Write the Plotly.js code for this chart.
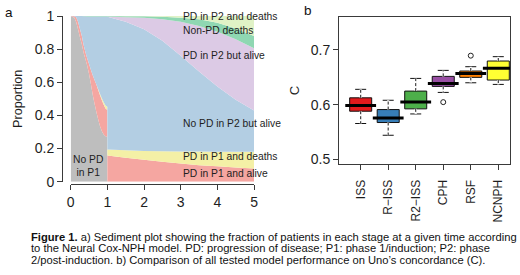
<!DOCTYPE html>
<html>
<head>
<meta charset="utf-8">
<script src="https://cdn.plot.ly/plotly-3.0.1.min.js"></script>
<style>
  html, body { margin: 0; padding: 0; background: #fff; }
  #chart { width: 520px; height: 275px; }
</style>
</head>
<body>
<div id="chart"></div>
<script>
// ---------- Panel a: sediment plot (proportion of patients per state over time) ----------
const time = [0, 0.1, 0.15, 0.2, 0.25, 0.3, 0.35, 0.4, 0.45, 0.5, 0.55, 0.6, 0.65, 0.7, 0.75, 0.8, 0.85, 0.9, 0.95, 0.999,
              1, 1.5, 2, 2.5, 3, 3.5, 4, 4.5, 5];
const noPdP1      = [1, 0.99, 0.963, 0.92, 0.873, 0.833, 0.78, 0.74, 0.70, 0.65, 0.59, 0.525, 0.47, 0.42, 0.375, 0.335, 0.305, 0.285, 0.275, 0.27,
                     0, 0, 0, 0, 0, 0, 0, 0, 0];
const pdP1Alive   = [0, 0.008, 0.03, 0.045, 0.05, 0.05, 0.047, 0.043, 0.044, 0.061, 0.086, 0.118, 0.144, 0.166, 0.178, 0.187, 0.186, 0.18, 0.167, 0.162,
                     0.158, 0.145, 0.133, 0.12, 0.11, 0.1, 0.093, 0.086, 0.08];
const pdP1Death   = [0, 0, 0, 0, 0, 0, 0, 0, 0, 0, 0, 0, 0, 0, 0.005, 0.008, 0.012, 0.015, 0.018, 0.02,
                     0.037, 0.045, 0.053, 0.064, 0.073, 0.082, 0.088, 0.094, 0.10];
const noPdP2Alive = [0, 0.002, 0.007, 0.035, 0.077, 0.117, 0.172, 0.215, 0.253, 0.286, 0.321, 0.354, 0.383, 0.411, 0.439, 0.467, 0.494, 0.517, 0.537, 0.545,
                     0.8, 0.775, 0.734, 0.666, 0.577, 0.483, 0.394, 0.315, 0.25];
const pdP2Alive   = [0, 0, 0, 0, 0, 0, 0, 0, 0, 0, 0, 0, 0, 0, 0, 0, 0, 0, 0, 0,
                     0.002, 0.028, 0.07, 0.13, 0.205, 0.275, 0.33, 0.365, 0.375];
const nonPdDeath  = [0, 0, 0, 0, 0, 0, 0.001, 0.002, 0.003, 0.003, 0.003, 0.003, 0.003, 0.003, 0.003, 0.003, 0.003, 0.003, 0.003, 0.003,
                     0.003, 0.006, 0.008, 0.015, 0.025, 0.04, 0.055, 0.065, 0.075];
const pdP2Death   = [0, 0, 0, 0, 0, 0, 0, 0, 0, 0, 0, 0, 0, 0, 0, 0, 0, 0, 0, 0,
                     0, 0.001, 0.002, 0.005, 0.01, 0.02, 0.04, 0.075, 0.12];

const stateNames = ['No PD in P1', 'PD in P1 and alive', 'PD in P1 and deaths', 'No PD in P2 but alive',
                    'PD in P2 but alive', 'Non-PD deaths', 'PD in P2 and deaths'];
const stateValues = [noPdP1, pdP1Alive, pdP1Death, noPdP2Alive, pdP2Alive, nonPdDeath, pdP2Death];
const stateColors = ['#bebebe', '#f5a6a1', '#f4f0a6', '#b3cee3', '#dccae5', '#8fd7b2', '#e0f2c6'];

// ---------- Panel b: Uno's concordance per model ----------
const models       = ['ISS', 'R\u2212ISS', 'R2\u2212ISS', 'CPH', 'RSF', 'NCNPH'];
const lowerWhisker = [0.5655, 0.544, 0.583, 0.6224, 0.640, 0.637];
const q1           = [0.588, 0.5673, 0.5923, 0.6334, 0.6499, 0.645];
const median       = [0.5985, 0.5758, 0.605, 0.6389, 0.6572, 0.6664];
const q3           = [0.6125, 0.591, 0.6248, 0.6517, 0.6615, 0.6798];
const upperWhisker = [0.628, 0.608, 0.648, 0.6627, 0.6694, 0.6878];
const outlierModel = ['CPH', 'RSF'];
const outlierC     = [0.6046, 0.6896];
const boxColors    = ['#e41a1c', '#377eb8', '#4daf4a', '#984ea3', '#ff7f00', '#ffff33'];

const FONT = 'Liberation Sans, Arial, Helvetica, sans-serif';
const AX = '#3a3a3a';
const traces = [];

stateNames.forEach((name, i) => {
  traces.push({
    type: 'scatter', mode: 'none', name: name,
    x: time, y: stateValues[i],
    stackgroup: 'sediment',
    fillcolor: stateColors[i],
    line: {width: 0},
    xaxis: 'x', yaxis: 'y',
    hoverinfo: 'skip', showlegend: false
  });
});

models.forEach((m, i) => {
  traces.push({
    type: 'box', name: m,
    x: [m], q1: [q1[i]], median: [median[i]], q3: [q3[i]],
    lowerfence: [lowerWhisker[i]], upperfence: [upperWhisker[i]],
    fillcolor: boxColors[i],
    line: {color: '#111', width: 1},
    width: 0.8, whiskerwidth: 0.5, boxpoints: false,
    xaxis: 'x2', yaxis: 'y2', showlegend: false, hoverinfo: 'skip'
  });
});

// dashed whiskers (R style) drawn over the box whiskers
models.forEach((m, i) => {
  const wx = [m, m, m, m, m];
  const wy = [q3[i], upperWhisker[i], null, q1[i], lowerWhisker[i]];
  traces.push({type: 'scatter', mode: 'lines', x: wx, y: wy, line: {color: '#ffffff', width: 2.2},
               connectgaps: false, xaxis: 'x2', yaxis: 'y2', showlegend: false, hoverinfo: 'skip'});
  traces.push({type: 'scatter', mode: 'lines', x: wx, y: wy, line: {color: '#222', width: 1, dash: '3px,2px'},
               connectgaps: false, xaxis: 'x2', yaxis: 'y2', showlegend: false, hoverinfo: 'skip'});
});

// thick medians
traces.push({
  type: 'scatter', mode: 'markers', x: models, y: median,
  marker: {symbol: 'line-ew', size: 22, line: {width: 3, color: '#000'}},
  xaxis: 'x2', yaxis: 'y2', showlegend: false, hoverinfo: 'skip'
});

// outliers
traces.push({
  type: 'scatter', mode: 'markers', x: outlierModel, y: outlierC,
  marker: {symbol: 'circle-open', size: 5, color: '#222', line: {width: 1}},
  xaxis: 'x2', yaxis: 'y2', showlegend: false, hoverinfo: 'skip'
});

const labelFont = {family: FONT, size: 10.3, color: '#1e1e1e'};
function stateLabel(text, x, y, anchor) {
  return {text: text, x: x, y: y, xref: 'x', yref: 'y', xanchor: anchor || 'left', yanchor: 'middle',
          showarrow: false, font: labelFont, align: 'center'};
}
const captionFont = {family: FONT, size: 11.2, color: '#111'};
function captionLine(text, y) {
  return {text: text, x: 0.0558, y: y, xref: 'paper', yref: 'paper', xanchor: 'left', yanchor: 'middle',
          showarrow: false, font: captionFont, align: 'left'};
}

const layout = {
  width: 520, height: 275,
  margin: {l: 0, r: 0, t: 0, b: 0},
  paper_bgcolor: '#fff', plot_bgcolor: '#fff',
  showlegend: false,
  boxmode: 'overlay',
  font: {family: FONT, color: '#1e1e1e'},
  xaxis: {
    domain: [0.136, 0.4885], range: [0, 5], anchor: 'free', position: 0.331,
    showline: true, linecolor: AX, linewidth: 1, ticks: 'outside', ticklen: 5, tickcolor: AX, tickwidth: 1,
    tickvals: [0, 1, 2, 3, 4, 5], showgrid: false, zeroline: false,
    tickfont: {family: FONT, size: 14, color: '#1e1e1e'}
  },
  yaxis: {
    domain: [0.3393, 0.9418], range: [0, 1], anchor: 'free', position: 0.1192,
    showline: true, linecolor: AX, linewidth: 1, ticks: 'outside', ticklen: 5, tickcolor: AX, tickwidth: 1,
    tickvals: [0, 0.2, 0.4, 0.6, 0.8, 1], ticktext: ['0', '0.2', '0.4', '0.6', '0.8', '1'],
    showgrid: false, zeroline: false,
    tickfont: {family: FONT, size: 14, color: '#1e1e1e'},
    title: {text: 'Proportion', font: {family: FONT, size: 12.6, color: '#1e1e1e'}, standoff: 8}
  },
  xaxis2: {
    type: 'category', domain: [0.6519, 0.9817], range: [-0.788, 5.443], anchor: 'y2',
    showline: true, mirror: true, linecolor: AX, linewidth: 1,
    ticks: 'outside', ticklen: 5, tickcolor: AX, tickwidth: 1, tickangle: -90,
    ticklabelstandoff: 5, showgrid: false, zeroline: false,
    tickfont: {family: FONT, size: 12, color: '#1e1e1e'}
  },
  yaxis2: {
    domain: [0.4036, 0.9371], range: [0.4914, 0.7598], anchor: 'x2',
    showline: true, mirror: true, linecolor: AX, linewidth: 1,
    ticks: 'outside', ticklen: 5, tickcolor: AX, tickwidth: 1,
    tickvals: [0.5, 0.6, 0.7], ticktext: ['0.5', '0.6', '0.7'],
    showgrid: false, zeroline: false,
    tickfont: {family: FONT, size: 14, color: '#1e1e1e'},
    title: {text: 'C', font: {family: FONT, size: 13, color: '#1e1e1e'}, standoff: 8}
  },
  annotations: [
    stateLabel('PD in P2 and deaths', 3, 0.995),
    stateLabel('Non-PD deaths', 3, 0.911),
    stateLabel('PD in P2 but alive', 3, 0.759),
    stateLabel('No PD in P2 but alive', 3, 0.352),
    stateLabel('PD in P1 and deaths', 3, 0.155),
    stateLabel('PD in P1 and alive', 3, 0.05),
    stateLabel('No PD<br>in P1', 0.48, 0.095, 'center'),
    {text: 'a', x: 0.006, y: 0.955, xref: 'paper', yref: 'paper', xanchor: 'left', yanchor: 'middle',
     showarrow: false, font: {family: FONT, size: 13.5, color: '#111'}},
    {text: 'b', x: 0.581, y: 0.962, xref: 'paper', yref: 'paper', xanchor: 'left', yanchor: 'middle',
     showarrow: false, font: {family: FONT, size: 13.5, color: '#111'}},
    captionLine('<b>Figure 1.</b> a) Sediment plot showing the fraction of patients in each stage at a given time according', 0.1389),
    captionLine('to the Neural Cox-NPH model. PD: progression of disease; P1: phase 1/induction; P2: phase', 0.0975),
    captionLine('2/post-induction. b) Comparison of all tested model performance on Uno\u2019s concordance (C).', 0.0556)
  ]
};

Plotly.newPlot('chart', traces, layout, {staticPlot: true, displayModeBar: false});
</script>
</body>
</html>
